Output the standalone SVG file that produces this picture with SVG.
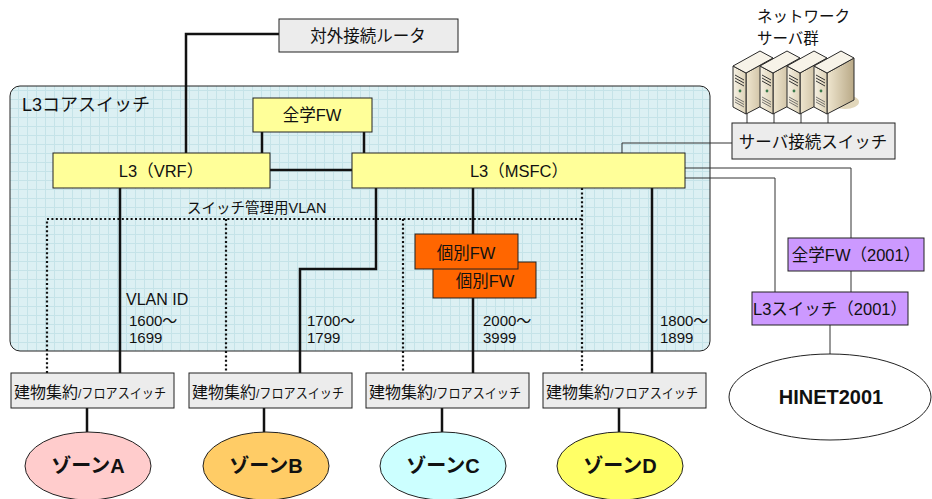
<svg xmlns="http://www.w3.org/2000/svg" width="932" height="499" viewBox="0 0 932 499">
  <defs>
    <pattern id="grid" width="9" height="9" patternUnits="userSpaceOnUse">
      <rect width="9" height="9" fill="#dcf0f3"/>
      <path d="M0 0.5H9M0.5 0V9" stroke="#c5e3e8" stroke-width="1"/>
    </pattern>
    <linearGradient id="srvSide" x1="0" y1="0" x2="1" y2="0">
      <stop offset="0" stop-color="#efe6cf"/>
      <stop offset="1" stop-color="#b9a987"/>
    </linearGradient>
    <linearGradient id="srvFront" x1="0" y1="0" x2="1" y2="0">
      <stop offset="0" stop-color="#f6f1e4"/>
      <stop offset="1" stop-color="#ddd2b6"/>
    </linearGradient>
    <g id="tower">
      <path d="M746 73L773 58V100L746 114Z" fill="url(#srvSide)" stroke="#2a2a2a" stroke-width="1"/>
      <path d="M733 66L746 73V114L733 107Z" fill="url(#srvFront)" stroke="#2a2a2a" stroke-width="1"/>
      <path d="M733 66L760 51L773 58L746 73Z" fill="#f7f3e8" stroke="#2a2a2a" stroke-width="1"/>
      <path d="M735 75L744 80M735 78L744 83M735 81L744 86" stroke="#333" stroke-width="1"/>
      <circle cx="740" cy="91" r="1.4" fill="#3a7a4a"/>
      <path d="M735 97L744 102M735 99.5L744 104.5M735 102L744 107" stroke="#555" stroke-width="0.8"/>
    </g>
  </defs>
  <style>
    text { font-family: "Liberation Sans", "Noto Sans CJK JP", sans-serif; fill: #111; }
    .box { stroke: #222; stroke-width: 1; }
    .gray { fill: #ececec; }
    .yellow { fill: #ffff99; }
    .orange { fill: #ff6600; }
    .violet { fill: #cc99ff; }
    .lbl { font-size: 16.5px; text-anchor: middle; }
    .zone { font-size: 20px; font-weight: bold; text-anchor: middle; }
    .num { font-size: 15px; }
    .thick { stroke: #111; stroke-width: 2.5; fill: none; }
    .thin { stroke: #333; stroke-width: 1; fill: none; }
    .dot { stroke: #111; stroke-width: 2.2; stroke-dasharray: 2 2.4; fill: none; }
  </style>

  <!-- core switch enclosure -->
  <g id="core">
    <rect x="10" y="86" width="700" height="265" rx="10" fill="url(#grid)" stroke="#222" stroke-width="1"/>
    <text x="22" y="111" font-size="18">L3コアスイッチ</text>
  </g>

  <!-- connectors -->
  <g id="connectors">
    <path class="thick" d="M279 34H186V153"/>
    <path class="thick" d="M262 132V153M364 132V153"/>
    <path class="thick" d="M270 170H352"/>
    <path class="thick" d="M120 188V373"/>
    <path class="thick" d="M376 188V269H300V373"/>
    <path class="thick" d="M473 188V234M473 298V373"/>
    <path class="thick" d="M652 188V373"/>
    <path class="dot" d="M47 373V219H582M582 188V373M226 219V373M403 219V373"/>
    <path class="thick" d="M87 408V432M264 408V432M442 408V432M619 408V432"/>
    <path class="thin" d="M622 153V143H732"/>
    <path class="thin" d="M747 113V123M774 113V123M801 113V123M828 113V123"/>
    <path class="thin" d="M685 168H851V238"/>
    <path class="thin" d="M685 178H775V292"/>
    <path class="thin" d="M851 271V292"/>
    <path class="thin" d="M830 325V354"/>
  </g>

  <text x="187" y="213" font-size="14.5">スイッチ管理用VLAN</text>
  <text x="126" y="305" font-size="16">VLAN ID</text>
  <text x="129" y="326" class="num">1600～</text>
  <text x="129" y="343" class="num">1699</text>
  <text x="307" y="326" class="num">1700～</text>
  <text x="307" y="343" class="num">1799</text>
  <text x="483" y="326" class="num">2000～</text>
  <text x="483" y="343" class="num">3999</text>
  <text x="660" y="326" class="num">1800～</text>
  <text x="660" y="343" class="num">1899</text>

  <g id="router">
    <rect class="box gray" x="279" y="19" width="179" height="33"/>
    <text class="lbl" x="368" y="42" font-size="18">対外接続ルータ</text>
  </g>

  <g id="fw-campus">
    <rect class="box yellow" x="253" y="98" width="119" height="34"/>
    <text class="lbl" x="312" y="121">全学FW</text>
  </g>

  <g id="l3-vrf">
    <rect class="box yellow" x="53" y="153" width="217" height="35"/>
    <text class="lbl" x="161" y="177">L3（VRF）</text>
  </g>

  <g id="l3-msfc">
    <rect class="box yellow" x="352" y="153" width="333" height="35"/>
    <text class="lbl" x="519" y="177">L3（MSFC）</text>
  </g>

  <g id="fw-individual">
    <rect class="box orange" x="433" y="262" width="103" height="36"/>
    <text class="lbl" x="485" y="287" font-size="17">個別FW</text>
    <rect class="box orange" x="415" y="234" width="103" height="35"/>
    <text class="lbl" x="466" y="259" font-size="17">個別FW</text>
  </g>

  <g id="servers">
    <text x="757" y="22" font-size="15.5">ネットワーク</text>
    <text x="757" y="44" font-size="15.5">サーバ群</text>
    <ellipse cx="845" cy="102" rx="14" ry="7" fill="#e2d7bb"/>
    <use href="#tower"/>
    <use href="#tower" x="27"/>
    <use href="#tower" x="54"/>
    <use href="#tower" x="81"/>
  </g>

  <g id="server-switch">
    <rect class="box gray" x="732" y="123" width="163" height="36"/>
    <text class="lbl" x="813" y="148" font-size="18">サーバ接続スイッチ</text>
  </g>

  <g id="fw-2001">
    <rect class="box violet" x="788" y="238" width="136" height="33"/>
    <text class="lbl" x="856" y="261" font-size="15">全学FW（2001）</text>
  </g>

  <g id="l3-2001">
    <rect class="box violet" x="752" y="292" width="156" height="33"/>
    <text class="lbl" x="830" y="315" font-size="15">L3スイッチ（2001）</text>
  </g>

  <g id="hinet">
    <ellipse cx="830" cy="397" rx="101" ry="43" fill="#fff" stroke="#222" stroke-width="1"/>
    <text class="zone" x="831" y="404" font-size="21">HINET2001</text>
  </g>

  <g id="bldg-a">
    <rect class="box gray" x="11" y="373" width="163" height="35"/>
    <text x="14" y="398" font-size="16">建物集約<tspan font-size="13.5" textLength="88" lengthAdjust="spacingAndGlyphs">/フロアスイッチ</tspan></text>
  </g>
  <g id="bldg-b">
    <rect class="box gray" x="189" y="373" width="163" height="35"/>
    <text x="192" y="398" font-size="16">建物集約<tspan font-size="13.5" textLength="88" lengthAdjust="spacingAndGlyphs">/フロアスイッチ</tspan></text>
  </g>
  <g id="bldg-c">
    <rect class="box gray" x="366" y="373" width="163" height="35"/>
    <text x="369" y="398" font-size="16">建物集約<tspan font-size="13.5" textLength="88" lengthAdjust="spacingAndGlyphs">/フロアスイッチ</tspan></text>
  </g>
  <g id="bldg-d">
    <rect class="box gray" x="543" y="373" width="163" height="35"/>
    <text x="546" y="398" font-size="16">建物集約<tspan font-size="13.5" textLength="88" lengthAdjust="spacingAndGlyphs">/フロアスイッチ</tspan></text>
  </g>

  <g id="zone-a">
    <ellipse cx="88" cy="466" rx="63" ry="34" fill="#ffcccc" stroke="#222" stroke-width="1"/>
    <text class="zone" x="88" y="473">ゾーンA</text>
  </g>
  <g id="zone-b">
    <ellipse cx="266" cy="466" rx="63" ry="34" fill="#ffcc66" stroke="#222" stroke-width="1"/>
    <text class="zone" x="266" y="473">ゾーンB</text>
  </g>
  <g id="zone-c">
    <ellipse cx="443" cy="466" rx="63" ry="34" fill="#ccffff" stroke="#222" stroke-width="1"/>
    <text class="zone" x="443" y="473">ゾーンC</text>
  </g>
  <g id="zone-d">
    <ellipse cx="620" cy="466" rx="63" ry="34" fill="#ffff66" stroke="#222" stroke-width="1"/>
    <text class="zone" x="620" y="473">ゾーンD</text>
  </g>
</svg>
